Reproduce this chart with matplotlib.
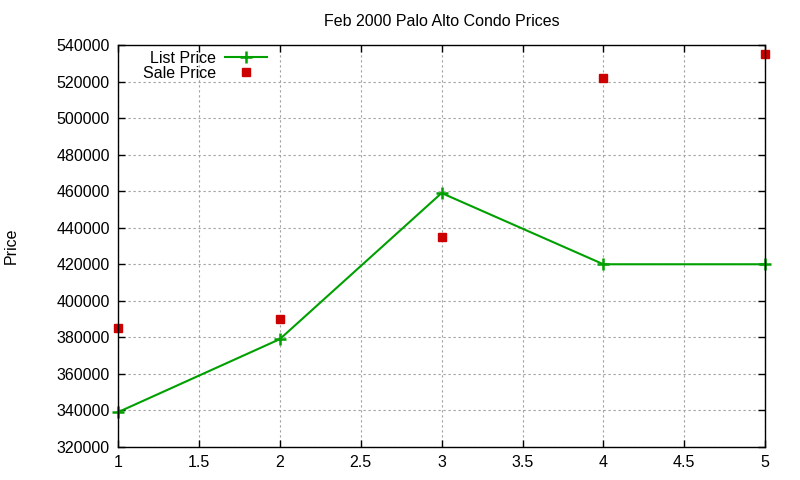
import matplotlib
matplotlib.use('Agg')
import matplotlib.pyplot as plt

# values
x_vals = [1, 2, 3, 4, 5]
list_price = [339000, 379000, 459000, 420000, 420000]
sale_price = [385000, 390000, 435000, 522000, 535000]

plt.rcParams['font.family'] = ['Liberation Sans', 'DejaVu Sans']
plt.rcParams['font.size'] = 11.5

fig = plt.figure(figsize=(8, 4.8), dpi=100)
ax = fig.add_axes([0.1475, 0.069, 0.809, 0.837])

ax.plot(x_vals, list_price, color='#00a000', lw=1.5, marker='+', ms=9, mew=1.8,
        label='List Price', clip_on=False)
ax.plot(x_vals, sale_price, ls='none', color='#cc0000', marker='s', ms=6,
        label='Sale Price', clip_on=False)

ax.set_xlim(1, 5)
ax.set_ylim(320000, 540000)
ax.set_xticks([1, 1.5, 2, 2.5, 3, 3.5, 4, 4.5, 5])
ax.set_xticklabels(['1', '1.5', '2', '2.5', '3', '3.5', '4', '4.5', '5'])
ax.set_yticks(range(320000, 540001, 20000))
ax.set_yticklabels([str(v) for v in range(320000, 540001, 20000)])

ax.tick_params(direction='in', length=5, width=1, top=True, right=True, pad=6)
ax.grid(True, color='#a0a0a0', ls=(0, (2, 2.5)), lw=0.8)
for s in ax.spines.values():
    s.set_linewidth(1)

ax.set_title('Feb 2000 Palo Alto Condo Prices', fontsize=11.5, pad=14)
ax.set_ylabel('Price', labelpad=27)

ax.legend(loc='upper left', bbox_to_anchor=(0.028, 1.002), frameon=False,
          markerfirst=False, handlelength=2.6, handletextpad=0.6,
          labelspacing=0.0, borderaxespad=0)

fig.savefig('out.png', dpi=100)
